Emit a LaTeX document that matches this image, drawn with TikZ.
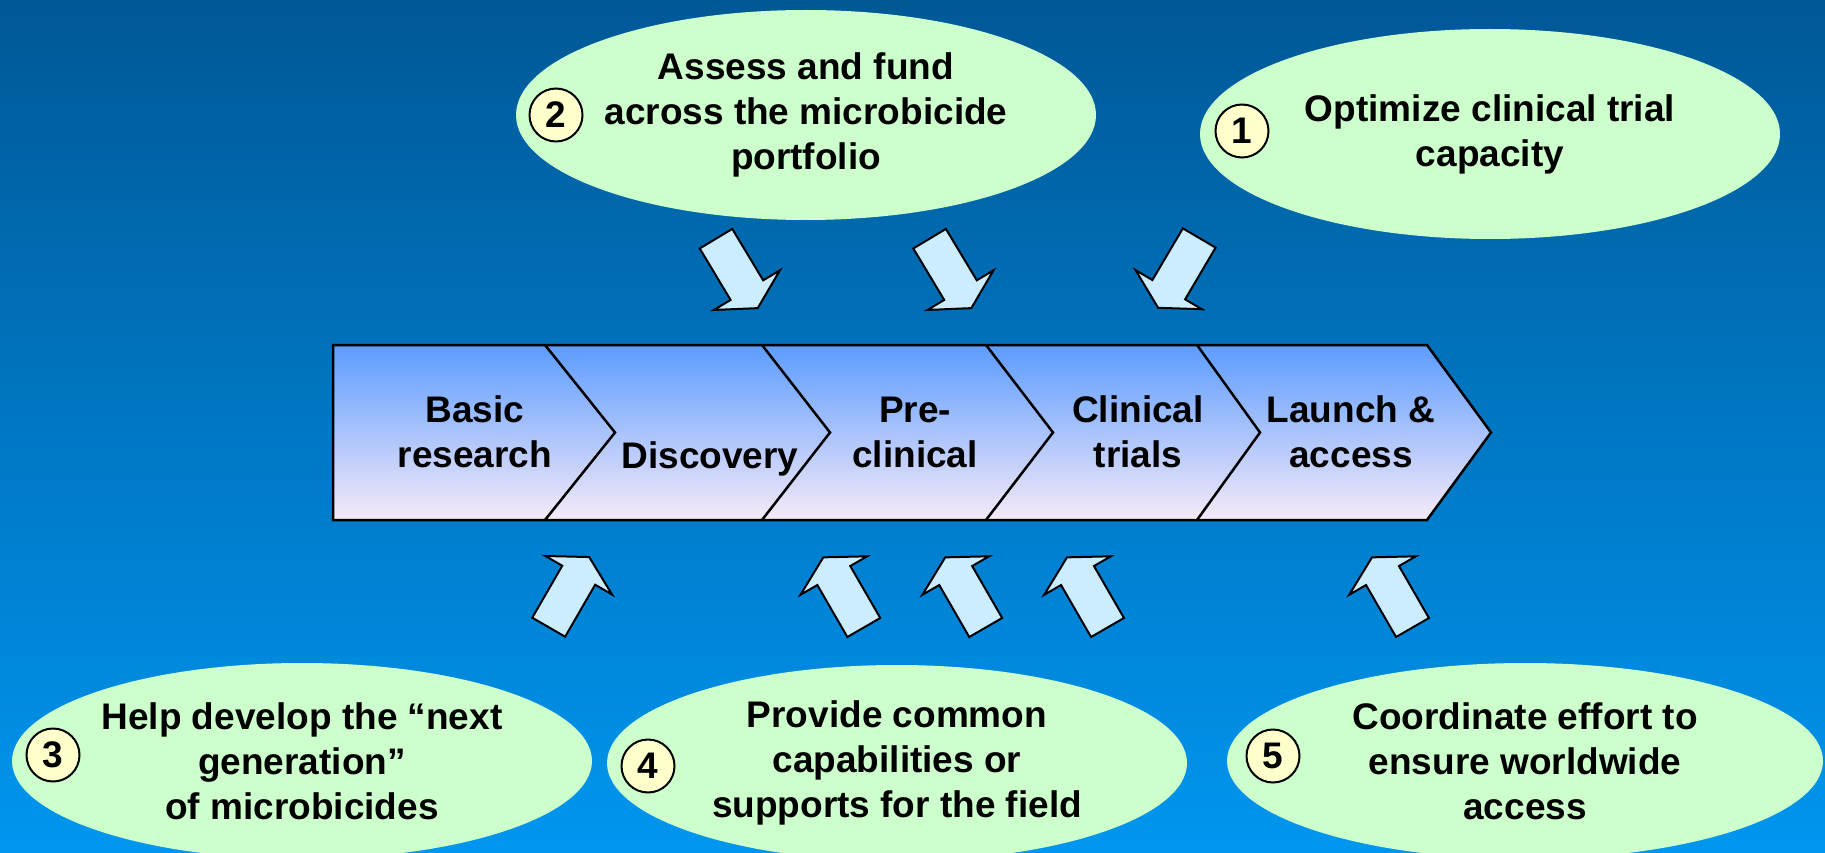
\documentclass[tikz,border=0pt]{standalone}
\usepackage{fontspec}
\setmainfont{Liberation Sans}
\usepackage{xcolor}
\usepackage{tikz}
\usetikzlibrary{shapes.geometric, positioning}

\definecolor{bgtop}{RGB}{0,88,150}
\definecolor{bgbottom}{RGB}{0,150,240}
\definecolor{goalgreen}{RGB}{204,255,204}
\definecolor{numyellow}{RGB}{255,255,204}
\definecolor{pushblue}{RGB}{204,236,255}
\definecolor{stagetop}{RGB}{92,156,255}
\definecolor{stagemid}{RGB}{135,188,250}
\definecolor{stagebottom}{RGB}{246,234,248}

\begin{document}
\begin{tikzpicture}[
    x=1pt, y=-1pt,
    goal/.style={ellipse, fill=goalgreen, minimum width=580pt, minimum height=210pt, inner sep=0pt, align=center, font=\bfseries\fontsize{37}{45}\selectfont},
    num/.style={circle, draw=black, line width=2pt, fill=numyellow, minimum size=53pt, inner sep=0pt, font=\bfseries\fontsize{37}{45}\selectfont},
    stage/.style={draw=black, line width=2.5pt, top color=stagetop, middle color=stagemid, bottom color=stagebottom},
    stageline/.style={draw=black, line width=2.5pt},
    stagetext/.style={align=center, inner sep=0pt, font=\bfseries\fontsize{37}{45}\selectfont},
    push/.style={draw=black, line width=2pt, fill=pushblue, line join=miter}
]
\useasboundingbox (0,0) rectangle (1825,853);
\clip (0,0) rectangle (1825,853);
\fill[top color=bgtop, bottom color=bgbottom] (0,0) rectangle (1825,853);

\node[goal] (fund) at (806,115) {Assess and fund\\across the microbicide\\portfolio};
\node[goal] (trials) at (1490,134) {Optimize clinical trial\\capacity};
\node[goal, minimum height=196pt] (nextgen) at (302,761) {Help develop the “next\\generation”\\of microbicides};
\node[goal, minimum height=196pt] (common) at (897,763) {Provide common\\capabilities or\\supports for the field};
\node[goal, minimum height=196pt, minimum width=596pt] (access) at (1525,761) {Coordinate effort to\\ensure worldwide\\access};

\node[num] (n1) at (1242,131) {1};
\node[num] (n2) at (556,115) {2};
\node[num] (n3) at (53,755) {3};
\node[num] (n4) at (648,766) {4};
\node[num] (n5) at (1273,756) {5};

\path[stage] (333,345) -- (1427,345) -- (1491,432.5) -- (1427,520) -- (333,520) -- cycle;
\foreach \a/\b in {545/615, 762/830, 986/1053, 1197/1260}
    \draw[stageline] (\a,345) -- (\b,432.5) -- (\a,520);

\node[stagetext] (basic) at (475,432) {Basic\\research};
\node[stagetext, anchor=base] (discovery) at (710,468) {Discovery};
\node[stagetext] (preclin) at (915,432) {Pre-\\clinical};
\node[stagetext] (clinical) at (1138,432) {Clinical\\trials};
\node[stagetext] (launch) at (1351,432) {Launch \&\\access};

\foreach \px/\py/\ang in {716/238.7/-59, 929.6/238.7/-59, 1199.2/238/-120.5,
        548.7/627.2/60, 863.8/627.5/120, 985.7/627.5/120, 1107.5/627.5/120, 1412.5/627.5/120}
    \draw[push, shift={(\px,\py)}, rotate=\ang] (0,-19) -- (60,-19) -- (60,-38.5) -- (81,0) -- (60,38.5) -- (60,19) -- (0,19) -- cycle;

\end{tikzpicture}
\end{document}
